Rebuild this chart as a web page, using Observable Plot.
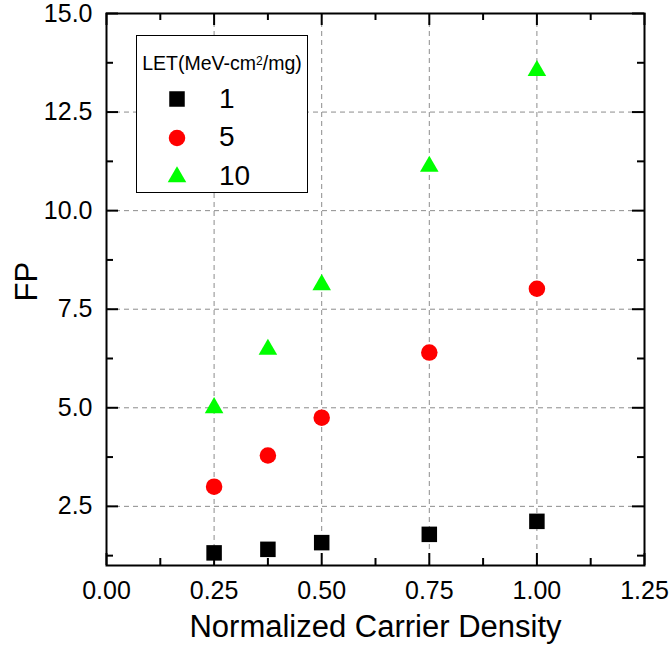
<!DOCTYPE html>
<html>
<head>
<meta charset="utf-8">
<script src="https://cdn.jsdelivr.net/npm/d3@7"></script>
<script src="https://cdn.jsdelivr.net/npm/@observablehq/plot@0.6"></script>
<style>
  body { margin: 0; background: #fff; font-family: "Liberation Sans", Arial, sans-serif; }
  #wrap { position: relative; width: 671px; height: 646px; }
  #wrap svg { display: block; }
  #legend { position: absolute; left: 136px; top: 35px; width: 170px; height: 156px;
            border: 1px solid #000; background: #fff; color: #000; }
  #legend .title { position: absolute; left: 0; top: 18px; width: 100%; text-align: center;
                   font-size: 19.5px; line-height: 19px; white-space: nowrap; }
  #legend .title sup { font-size: 12px; line-height: 0; vertical-align: 5px; }
  #legend .lab { position: absolute; left: 82px; font-size: 28px; line-height: 28px; white-space: nowrap; }
  #legend svg.sym { position: absolute; overflow: visible; }
</style>
</head>
<body>
<div id="wrap"></div>
<script>
// ---- data ----
const xValues = [0.25, 0.375, 0.5, 0.75, 1.0];
const fpLET1  = [1.32, 1.41, 1.58, 1.79, 2.12];
const fpLET5  = [3.00, 3.79, 4.75, 6.40, 8.02];
const fpLET10 = [5.00, 6.48, 8.12, 11.12, 13.55];
const seriesNames = ["1", "5", "10"];
const legendTitle = "LET(MeV-cm<sup>2</sup>/mg)";
const xTitle = "Normalized Carrier Density";
const yTitle = "FP";
const xMajorTicks = [0, 0.25, 0.5, 0.75, 1.0, 1.25];
const xMinorTicks = [0.125, 0.375, 0.625, 0.875, 1.125];
const yMajorTicks = [2.5, 5, 7.5, 10, 12.5, 15];
const yMinorTicks = [1.25, 3.75, 6.25, 8.75, 11.25, 13.75];
const xGridTicks = [0.25, 0.5, 0.75, 1.0];
const yGridTicks = [2.5, 5, 7.5, 10, 12.5];

// ---- styles / layout ----
const seriesColors = ["#000000", "#ff0000", "#00ff00"];
const seriesSymbols = ["square", "circle", "triangle"];
const seriesR = [8.75, 8.25, 6.9];
const FONT = "'Liberation Sans', Arial, sans-serif";
const W = 671, H = 646, ML = 106, MR = 27, MT = 13, MB = 81;
const frameW = W - ML - MR, frameH = H - MT - MB;
const MAJOR = 12, MINOR = 7;

const seriesValues = [fpLET1, fpLET5, fpLET10];
const series = seriesNames.map((name, s) => ({
  name, color: seriesColors[s], symbol: seriesSymbols[s], r: seriesR[s],
  rows: xValues.map((x, i) => ({x, fp: seriesValues[s][i], LET: name}))
}));

const gridStyle = {stroke: "#8c8c8c", strokeOpacity: 1, strokeWidth: 1, strokeDasharray: "5,4"};
const tickStyle = {stroke: "black", strokeWidth: 2};

// inward tick marks on all four sides (rules inset to the tick length)
const xTicks = (ticks, len) => [
  Plot.ruleX(ticks, {x: d => d, insetTop: frameH - len, ...tickStyle}),
  Plot.ruleX(ticks, {x: d => d, insetBottom: frameH - len, ...tickStyle})
];
const yTicks = (ticks, len) => [
  Plot.ruleY(ticks, {y: d => d, insetRight: frameW - len, ...tickStyle}),
  Plot.ruleY(ticks, {y: d => d, insetLeft: frameW - len, ...tickStyle})
];

const plot = Plot.plot({
  width: W, height: H,
  marginLeft: ML, marginRight: MR, marginTop: MT, marginBottom: MB,
  x: {domain: [0, 1.25], label: null},
  y: {domain: [1, 15], label: null},
  style: {fontFamily: FONT, background: "white", color: "black", overflow: "visible"},
  marks: [
    Plot.gridX(xGridTicks, gridStyle),
    Plot.gridY(yGridTicks, gridStyle),
    // tick labels
    Plot.axisX(xMajorTicks, {anchor: "bottom", tickSize: 0, tickPadding: 16, fontSize: 25, tickFormat: d3.format(".2f"), label: null}),
    Plot.axisY(yMajorTicks, {anchor: "left", tickSize: 0, tickPadding: 14, fontSize: 25, tickFormat: d3.format(".1f"), label: null}),
    ...xTicks(xMajorTicks, MAJOR),
    ...xTicks(xMinorTicks, MINOR),
    ...yTicks(yMajorTicks, MAJOR),
    ...yTicks(yMinorTicks, MINOR),
    Plot.frame({stroke: "black", strokeWidth: 2}),
    // data
    ...series.map(s => Plot.dot(s.rows, {x: "x", y: "fp", symbol: s.symbol, r: s.r, fill: s.color, stroke: "none"})),
    // axis titles
    Plot.text([xTitle], {text: d => d, frameAnchor: "bottom", dy: 62, fontSize: 31, lineAnchor: "middle"}),
    Plot.text([yTitle], {text: d => d, frameAnchor: "left", rotate: -90, dx: -79, dy: 12, fontSize: 31, lineAnchor: "middle"})
  ]
});

const wrap = document.getElementById("wrap");
wrap.appendChild(plot);

// ---- legend ----
const legend = document.createElement("div");
legend.id = "legend";
const title = document.createElement("div");
title.className = "title";
title.innerHTML = legendTitle;
legend.appendChild(title);
const symbolTypes = {square: d3.symbolSquare, circle: d3.symbolCircle, triangle: d3.symbolTriangle};
const rowStep = 38.6;
series.forEach((s, i) => {
  const cy = 63 + i * rowStep + (s.symbol === "triangle" ? 0.5 : 0);
  const sym = d3.create("svg").attr("class", "sym").attr("width", 1).attr("height", 1)
    .style("left", "40px").style("top", cy + "px");
  sym.append("path")
    .attr("d", d3.symbol(symbolTypes[s.symbol], Math.PI * s.r * s.r)())
    .attr("fill", s.color);
  legend.appendChild(sym.node());
  const lab = document.createElement("div");
  lab.className = "lab";
  lab.style.top = (48.6 + i * rowStep) + "px";
  lab.textContent = s.name;
  legend.appendChild(lab);
});
wrap.appendChild(legend);
</script>
</body>
</html>
